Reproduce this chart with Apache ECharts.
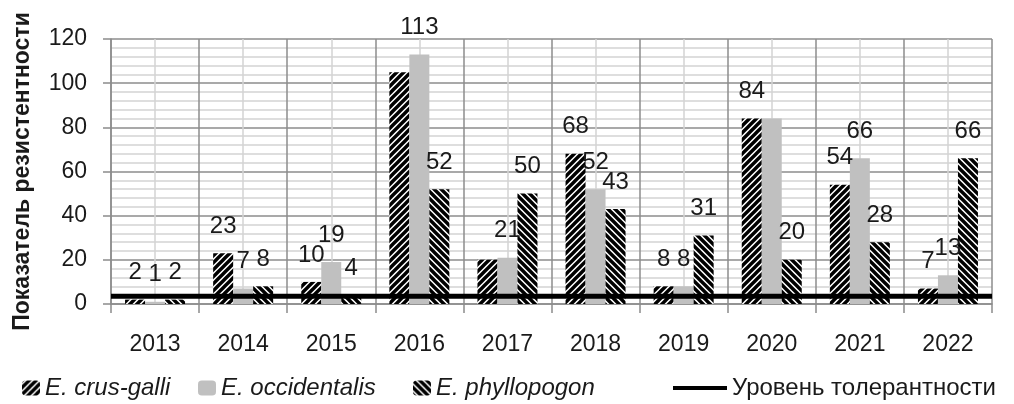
<!DOCTYPE html>
<html>
<head>
<meta charset="utf-8">
<script src="https://cdn.jsdelivr.net/npm/echarts@6/dist/echarts.min.js"></script>
<style>
  html, body { margin: 0; padding: 0; background: #ffffff; }
  #chart { width: 1014px; height: 404px; }
</style>
</head>
<body>
<div id="chart"></div>
<script>
// Years on the category axis
const years = ['2013', '2014', '2015', '2016', '2017', '2018', '2019', '2020', '2021', '2022'];

// Resistance index per species
const crusGalli    = [2, 23, 10, 105, 20, 68, 8, 84, 54, 7];
const occidentalis = [1, 7, 19, 113, 21, 52, 8, 84, 66, 13];
const phyllopogon  = [2, 8, 4, 52, 50, 43, 31, 20, 28, 66];

// Tolerance threshold drawn as a horizontal line
const tolerance = 3.5;

// Y axis tick values
const yTicks = [0, 20, 40, 60, 80, 100, 120];

// Years whose value label is not printed, per species
const unlabeledCrusGalli = ['2016', '2017'];
const unlabeledOccidentalis = ['2020'];
const unlabeledPhyllopogon = [];

const FONT = '"Liberation Sans", Arial, sans-serif';
const TEXT = '#1a1a1a';

// Diagonal hatch fill; dir = 1 draws "///", dir = -1 draws "\\\"
function hatch(dir) {
  const s = 7;
  const c = document.createElement('canvas');
  c.width = s; c.height = s;
  const g = c.getContext('2d');
  g.fillStyle = '#ffffff';
  g.fillRect(0, 0, s, s);
  g.strokeStyle = '#000000';
  g.lineWidth = 3.4;
  g.beginPath();
  const segs = dir > 0
    ? [[-s, s, s, -s], [0, s, s, 0], [0, 2 * s, 2 * s, 0]]
    : [[0, 0, s, s], [-s, 0, s, 2 * s], [0, -s, 2 * s, s]];
  segs.forEach(([x1, y1, x2, y2]) => { g.moveTo(x1, y1); g.lineTo(x2, y2); });
  g.stroke();
  return { image: c, repeat: 'repeat' };
}

function withLabels(values, hidden) {
  return values.map((v, i) => hidden.indexOf(years[i]) >= 0
    ? { value: v, label: { show: false } }
    : v);
}

const barLabel = {
  show: true,
  position: 'top',
  distance: 15,
  fontSize: 24,
  fontFamily: FONT,
  color: TEXT
};

const chart = echarts.init(document.getElementById('chart'), null, { renderer: 'canvas' });

const legendBase = {
  top: 376,
  padding: 0,
  itemWidth: 18,
  itemHeight: 15,
  itemGap: 0,
  selectedMode: false,
  textStyle: { fontSize: 24, fontFamily: FONT, color: TEXT, fontStyle: 'italic' }
};

chart.setOption({
  backgroundColor: '#ffffff',
  animation: false,
  grid: { left: 111, right: 22, top: 39, bottom: 100, containLabel: false, outerBoundsMode: 'none' },
  legend: [
    Object.assign({}, legendBase, { left: 22, data: ['E. crus-galli'] }),
    Object.assign({}, legendBase, { left: 198, data: ['E. occidentalis'] }),
    Object.assign({}, legendBase, { left: 413, data: ['E. phyllopogon'] }),
    Object.assign({}, legendBase, {
      left: 673, itemWidth: 54, itemHeight: 4,
      data: [{ name: 'Уровень толерантности', icon: 'rect' }],
      textStyle: { fontSize: 24, fontFamily: FONT, color: TEXT, fontStyle: 'normal' }
    })
  ],
  xAxis: [
    {
      type: 'category',
      data: years,
      boundaryGap: true,
      axisLine: { show: true, lineStyle: { color: '#8c8c8c', width: 1.5 } },
      axisTick: { show: true, length: 9, lineStyle: { color: '#8c8c8c', width: 1.5 } },
      axisLabel: { fontSize: 23, fontFamily: FONT, color: TEXT, margin: 29 },
      splitLine: { show: true, lineStyle: { color: '#8c8c8c', width: 1.5 } }
    },
    {
      // value scale spanning the same width: carries the centre grid lines and the threshold line
      type: 'value',
      min: 0,
      max: 10,
      interval: 1,
      position: 'bottom',
      axisLine: { show: false },
      axisTick: { show: false },
      axisLabel: { show: false },
      splitLine: { show: false },
      minorTick: { show: false, splitNumber: 2 },
      minorSplitLine: { show: true, lineStyle: { color: '#d4d4d4', width: 1.5 } }
    }
  ],
  yAxis: {
    type: 'value',
    min: yTicks[0],
    max: yTicks[yTicks.length - 1],
    interval: yTicks[1] - yTicks[0],
    name: 'Показатель резистентности',
    nameLocation: 'middle',
    nameRotate: 90,
    nameGap: 77,
    nameTextStyle: { fontSize: 23, fontWeight: 'bold', fontFamily: FONT, color: TEXT, padding: [0, 0, 0, 0] },
    axisLine: { show: true, lineStyle: { color: '#8c8c8c', width: 1.5 } },
    axisTick: { show: true, length: 8, lineStyle: { color: '#8c8c8c', width: 1.5 } },
    axisLabel: { fontSize: 23, fontFamily: FONT, color: TEXT, margin: 24 },
    splitLine: { show: true, lineStyle: { color: '#8c8c8c', width: 1.5 } },
    minorTick: { show: false, splitNumber: 5 },
    minorSplitLine: { show: true, lineStyle: { color: '#d4d4d4', width: 1.5 } }
  },
  series: [
    {
      name: 'E. crus-galli',
      type: 'bar',
      barWidth: 20,
      barGap: '0%',
      itemStyle: { color: hatch(1) },
      label: barLabel,
      data: withLabels(crusGalli, unlabeledCrusGalli)
    },
    {
      name: 'E. occidentalis',
      type: 'bar',
      barWidth: 20,
      barGap: '0%',
      itemStyle: { color: '#c0c0c0' },
      label: barLabel,
      data: withLabels(occidentalis, unlabeledOccidentalis)
    },
    {
      name: 'E. phyllopogon',
      type: 'bar',
      barWidth: 20,
      barGap: '0%',
      itemStyle: { color: hatch(-1) },
      label: barLabel,
      data: withLabels(phyllopogon, unlabeledPhyllopogon)
    },
    {
      name: 'Уровень толерантности',
      type: 'line',
      xAxisIndex: 1,
      symbol: 'none',
      silent: true,
      z: 5,
      itemStyle: { color: '#000000' },
      lineStyle: { color: '#000000', width: 5 },
      data: [[0, tolerance], [10, tolerance]]
    }
  ]
});
</script>
</body>
</html>
